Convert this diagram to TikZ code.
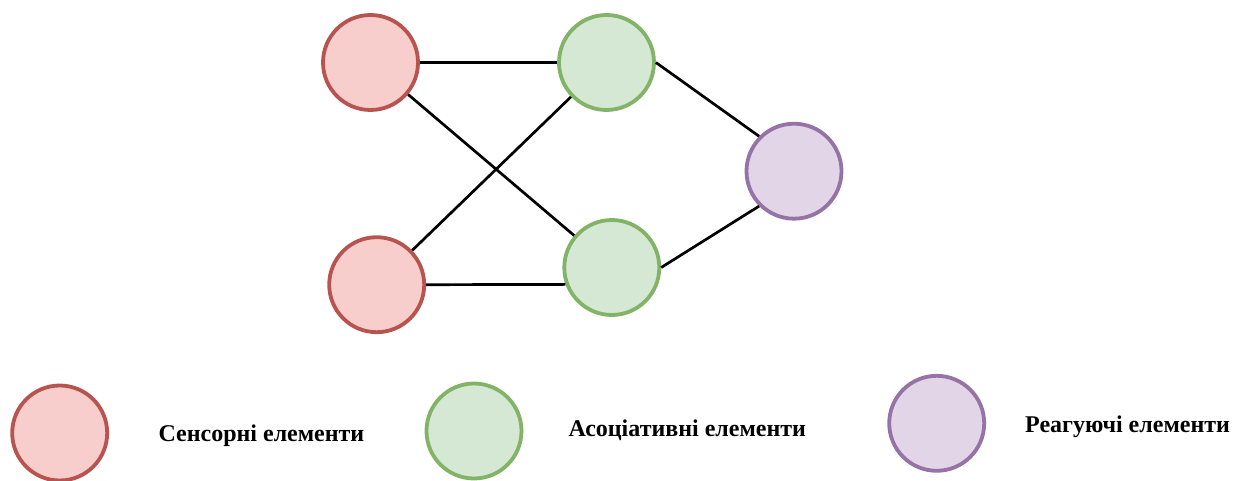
\documentclass[tikz,border=0pt]{standalone}
\usepackage{fontspec}
\setmainfont{Liberation Serif}
\usetikzlibrary{positioning}
\definecolor{sensfill}{HTML}{F8CECC}
\definecolor{sensline}{HTML}{B85450}
\definecolor{assocfill}{HTML}{D5E8D4}
\definecolor{assocline}{HTML}{82B366}
\definecolor{reactfill}{HTML}{E1D5E7}
\definecolor{reactline}{HTML}{9673A6}
\tikzset{
  neuron/.style={circle, minimum size=95pt, inner sep=0pt, line width=3.8pt},
  sens/.style={neuron, draw=sensline, fill=sensfill},
  assoc/.style={neuron, draw=assocline, fill=assocfill},
  react/.style={neuron, draw=reactline, fill=reactfill},
  link/.style={line width=2.7pt, black},
  legendtext/.style={anchor=base west, inner sep=0pt,
    font=\bfseries\fontsize{24}{29}\selectfont}
}

\begin{document}
\begin{tikzpicture}[x=1pt, y=-1pt]

	\useasboundingbox (0,0) rectangle (1249,481);

	% network
	\node[sens] (s1) at (370.5,62.5) {};
	\node[sens] (s2) at (376.7,284.7) {};
	\node[assoc] (a1) at (606.5,62.5) {};
	\node[assoc] (a2) at (611.8,267.5) {};
	\node[react] (r) at (794,171.2) {};

	\draw[link] (s1.east) -- (a1.west);
	\draw[link] (s1) -- (a2);
	\draw[link] (s2) -- (a1);
	\draw[link] (s2.east) -- (a2.200);
	\draw[link] (a1.east) -- (r.135);
	\draw[link] (a2.east) -- (r.225);

	% legend
	\node[sens] (ls) at (59.7,433) {};
	\node[legendtext] (lst) at (158.3,441.7) {Сенсорні елементи};

	\node[assoc] (la) at (474,431) {};
	\node[legendtext] (lat) at (568.3,436.7) {Асоціативні елементи};

	\node[react] (lr) at (936.7,423.3) {};
	\node[legendtext] (lrt) at (1025,432.7) {Реагуючі елементи};

\end{tikzpicture}
\end{document}
